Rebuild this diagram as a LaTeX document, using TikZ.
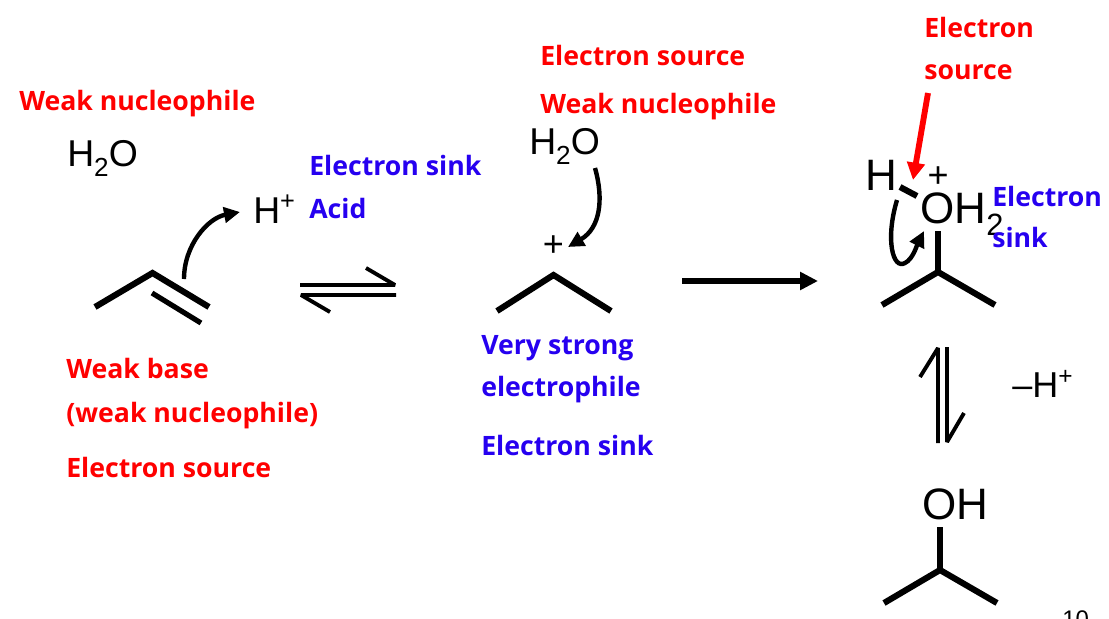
\documentclass[tikz,border=0pt]{standalone}
\usepackage{fontspec}
\setmainfont{Liberation Sans}
\newfontfamily\labelfont{Open Sans}
\usetikzlibrary{arrows.meta}
\definecolor{lblred}{HTML}{FF0000}
\definecolor{lblblue}{HTML}{2600F0}
\newcommand{\chem}[1]{\fontsize{#1}{#1}\selectfont}
\newcommand{\subtwo}{\raisebox{-0.28em}{\scalebox{0.7}{2}}}
\newcommand{\supplus}{\raisebox{0.36em}{\scalebox{0.68}{+}}}
\tikzset{
  x=0.75pt,y=-0.75pt,
  redlabel/.style={anchor=base west,inner sep=0pt,text=lblred,font=\labelfont\bfseries\fontsize{20pt}{22pt}\selectfont},
  bluelabel/.style={anchor=base west,inner sep=0pt,text=lblblue,font=\labelfont\bfseries\fontsize{20pt}{22pt}\selectfont},
  formula/.style={anchor=base west,inner sep=0pt,font=\chem{28pt}},
  formulabig/.style={anchor=base west,inner sep=0pt,font=\chem{33pt}},
  bond/.style={draw=black,line width=4.6pt,miter limit=10},
  thinbond/.style={draw=black,line width=3.9pt},
  eqline/.style={draw=black,line width=2.9pt,line join=bevel},
  curved/.style={draw=black,line width=3.3pt,-{Triangle[length=12pt,width=11.5pt]}},
  longarrow/.style={draw=black,line width=4pt,-{Triangle[length=13.5pt,width=13pt]}},
  redarrow/.style={draw=lblred,line width=4.4pt,-{Triangle[length=13pt,width=13pt]}}
}
\begin{document}
\begin{tikzpicture}
\useasboundingbox (0,0) rectangle (1109,618);
\begin{scope}
\clip (0,0) rectangle (1109,618);
\fill[white] (0,0) rectangle (1109,618);

% red and blue labels
\node[redlabel] (wn1) at (19,110) {Weak nucleophile};
\node[redlabel] (wb) at (66,378) {Weak base};
\node[redlabel] (wn2) at (66,422) {(weak nucleophile)};
\node[redlabel] (es1) at (66,477) {Electron source};
\node[redlabel] (es2) at (540,65) {Electron source};
\node[redlabel] (wn3) at (540,113) {Weak nucleophile};
\node[redlabel] (es3a) at (924,37) {Electron};
\node[redlabel] (es3b) at (924,79) {source};
\node[bluelabel] (sink1) at (309,175) {Electron sink};
\node[bluelabel] (acid) at (309,218) {Acid};
\node[bluelabel] (vs) at (481,354) {Very strong};
\node[bluelabel] (ep) at (481,396) {electrophile};
\node[bluelabel] (sink2) at (481,455) {Electron sink};

% formulas
\node[formula] (water1) at (67,166) {H\subtwo O};
\node[formula] (water2) at (529,154) {H\subtwo O};
\node[anchor=base west,inner sep=0pt,font=\chem{28pt}] (proton) at (253,223) {H\supplus};
\node[anchor=base,inner sep=0pt,font=\chem{27pt}] (plus1) at (553.5,256) {+};
\node[formulabig] (hleft) at (865,190) {H};
\node[anchor=base,inner sep=0pt,font=\chem{27pt}] (plus2) at (938,187) {+};
\node[formulabig] (oh2) at (920,223) {OH\subtwo};
\node[anchor=base west,inner sep=0pt,font=\chem{27pt}] (minush) at (1012,397) {--H\supplus};
\node[formulabig] (oh) at (922,519) {OH};
\node[anchor=base west,inner sep=0pt,font=\chem{18pt}] (pagenum) at (1062,627) {10};

% blue label over the oxonium
\node[bluelabel] (sink3a) at (992,206) {Electron};
\node[bluelabel] (sink3b) at (992,247) {sink};

% propene
\coordinate (pa) at (95,307);
\coordinate (pb) at (152.5,273);
\coordinate (pc) at (209,307);
\coordinate (pd) at (152,293);
\coordinate (pe) at (201,323);
\draw[bond] (pa) -- (pb) -- (pc);
\draw[thinbond] (pd) -- (pe);
\coordinate (c1s) at (184,279);
\coordinate (c1e) at (240,212);
\draw[curved] (c1s) .. controls (184,245) and (208,218) .. (c1e);

% equilibrium 1
\coordinate (e1a) at (300,285);
\coordinate (e1b) at (395,285);
\coordinate (e1c) at (366,268);
\coordinate (e1d) at (396,295);
\coordinate (e1e) at (301,295);
\coordinate (e1f) at (330,312);
\draw[eqline] (e1a) -- (e1b) -- (e1c);
\draw[eqline] (e1d) -- (e1e) -- (e1f);

% carbocation
\coordinate (ca) at (497,311);
\coordinate (cb) at (553.5,275);
\coordinate (cc) at (611,311);
\draw[bond] (ca) -- (cb) -- (cc);
\coordinate (c2s) at (595,168);
\coordinate (c2e) at (568,247);
\draw[curved] (c2s) .. controls (604,200) and (600,228) .. (c2e);

% long arrow
\coordinate (la) at (682,281);
\coordinate (lb) at (818,281);
\draw[longarrow] (la) -- (lb);

% oxonium
\coordinate (ob0) at (938,231);
\coordinate (ob1) at (938,272);
\coordinate (ob2) at (882,305);
\coordinate (ob3) at (995,305);
\draw[bond] (ob0) -- (ob1);
\draw[bond] (ob2) -- (ob1) -- (ob3);
\coordinate (hoa) at (900,187);
\coordinate (hob) at (917,196);
\draw[bond] (hoa) -- (hob);
\coordinate (ra) at (928,93);
\coordinate (rb) at (913,180);
\draw[redarrow] (ra) -- (rb);
\coordinate (c3s) at (897,200);
\coordinate (c3e) at (924,231);
\draw[curved] (c3s) .. controls (885,240) and (893,270) .. (905,263) .. controls (913,259) and (917,245) .. (c3e);

% equilibrium 2
\coordinate (e2a) at (938,443);
\coordinate (e2b) at (938,348);
\coordinate (e2c) at (920,377);
\coordinate (e2d) at (947,347);
\coordinate (e2e) at (947,442);
\coordinate (e2f) at (964,413);
\draw[eqline] (e2a) -- (e2b) -- (e2c);
\draw[eqline] (e2d) -- (e2e) -- (e2f);

% isopropanol
\coordinate (ib0) at (940,527);
\coordinate (ib1) at (940,570);
\coordinate (ib2) at (884,603);
\coordinate (ib3) at (997,603);
\draw[bond] (ib0) -- (ib1);
\draw[bond] (ib2) -- (ib1) -- (ib3);
\end{scope}
\end{tikzpicture}
\end{document}
